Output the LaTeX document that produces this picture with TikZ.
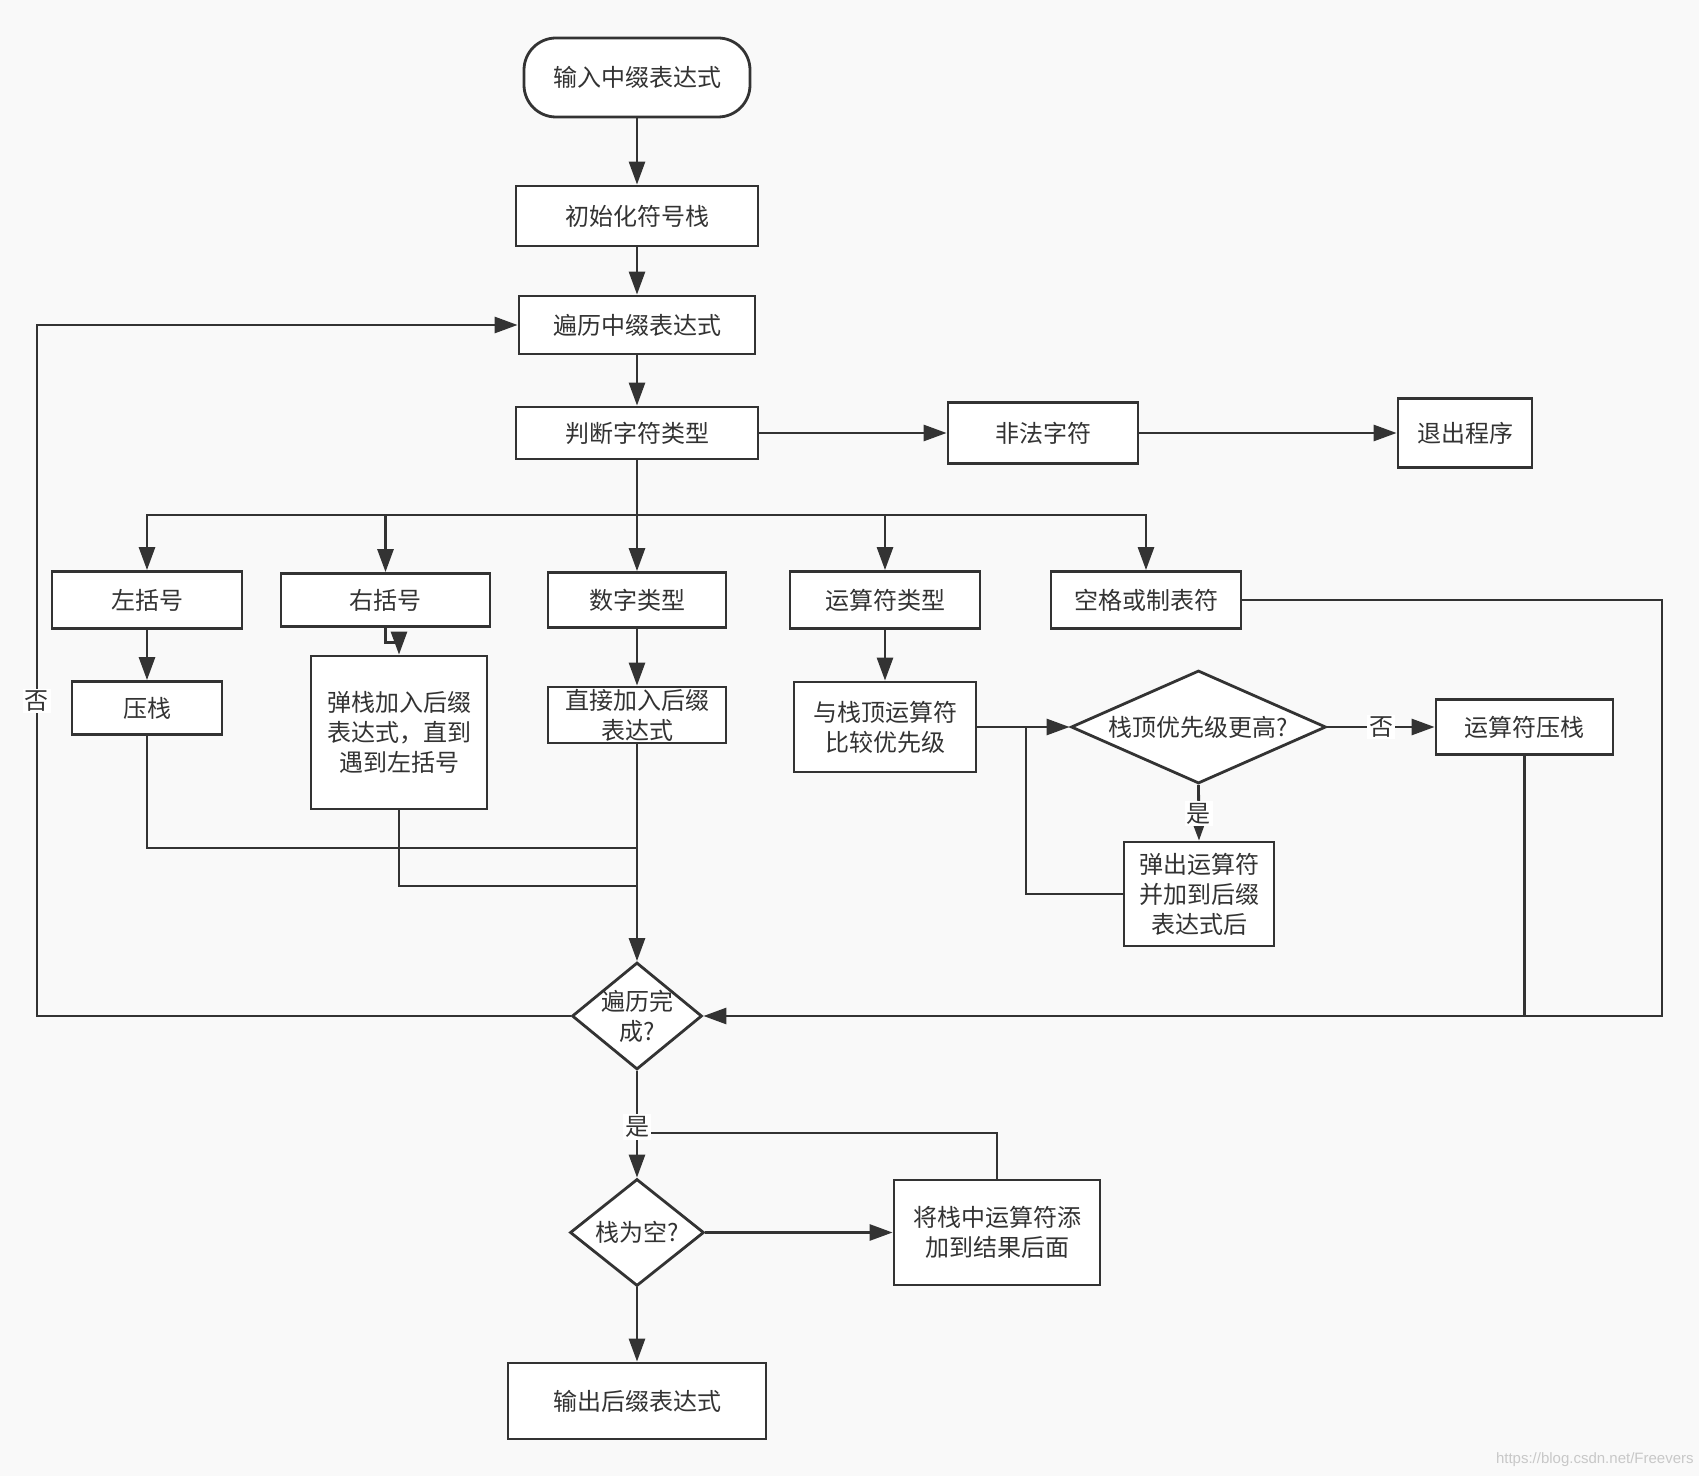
\documentclass[tikz,border=0pt]{standalone}
\usepackage{fontspec}
\newfontfamily\cjk{Noto Sans CJK SC}
\newfontfamily\wmfont{Liberation Sans}
\usetikzlibrary{arrows.meta,shapes.geometric}
\definecolor{bgc}{HTML}{F9F9F9}
\definecolor{linec}{HTML}{333333}
\definecolor{wmc}{HTML}{C8C8C8}
\tikzset{
  box/.style={draw=linec, line width=1.4pt, fill=white, rectangle, inner sep=0pt, align=center},
  dia/.style={draw=linec, line width=1.4pt, fill=white, diamond, inner sep=0pt},
  conn/.style={draw=linec, line width=1.4pt},
  arr/.style={conn, -{Triangle[length=11.5pt,width=8pt]}},
  elab/.style={fill=white, inner sep=1pt},
}
\begin{document}
\begin{tikzpicture}[x=0.5pt,y=-0.5pt, font=\cjk\fontsize{12}{15}\selectfont, text=linec]
\fill[bgc] (0,0) rectangle (1699,1476);
\useasboundingbox (0,0) rectangle (1699,1476);

\node[box, rounded corners=16pt, minimum width=113pt, minimum height=39.5pt] (start) at (637,77.5) {输入中缀表达式};
\node[box, minimum width=121pt, minimum height=30pt] (init) at (637,216) {初始化符号栈};
\node[box, minimum width=118pt, minimum height=29pt] (trav) at (637,325) {遍历中缀表达式};
\node[box, minimum width=121pt, minimum height=26pt] (judge) at (637,433) {判断字符类型};
\node[box, minimum width=95pt, minimum height=30.5pt] (illegal) at (1043,433) {非法字符};
\node[box, minimum width=67pt, minimum height=34.5pt] (exit) at (1465,433) {退出程序};

\node[box, minimum width=95pt, minimum height=28.5pt] (lp) at (147,600) {左括号};
\node[box, minimum width=104.5pt, minimum height=26.5pt] (rp) at (385.5,600) {右括号};
\node[box, minimum width=89pt, minimum height=27.5pt] (num) at (637,600) {数字类型};
\node[box, minimum width=95pt, minimum height=28.5pt] (op) at (885,600) {运算符类型};
\node[box, minimum width=95pt, minimum height=28.5pt] (space) at (1146,600) {空格或制表符};

\node[box, minimum width=75pt, minimum height=26.5pt] (push) at (147,708) {压栈};
\node[box, minimum width=88pt, minimum height=76.5pt] (pop) at (399,732.5) {弹栈加入后缀\\表达式，直到\\遇到左括号};
\node[box, minimum width=89pt, minimum height=28pt] (direct) at (637,715) {直接加入后缀\\表达式};
\node[box, minimum width=91pt, minimum height=45pt] (cmp) at (885,727) {与栈顶运算符\\比较优先级};
\node[dia, minimum width=127.5pt, minimum height=56.5pt, label={center:栈顶优先级更高?}] (d1) at (1198.5,727) {};
\node[box, minimum width=88.5pt, minimum height=27.5pt] (push2) at (1524.5,727) {运算符压栈};
\node[box, minimum width=75pt, minimum height=52pt] (pop2) at (1199,894) {弹出运算符\\并加到后缀\\表达式后};

\node[dia, minimum width=65pt, minimum height=53.5pt, label={[align=center]center:遍历完\\成?}] (d2) at (637,1016) {};
\node[dia, minimum width=67pt, minimum height=53.5pt, label={center:栈为空?}] (empty) at (637,1232.5) {};
\node[box, minimum width=103pt, minimum height=52.5pt] (add) at (997,1232.5) {将栈中运算符添\\加到结果后面};
\node[box, minimum width=129pt, minimum height=38pt] (out) at (637,1401) {输出后缀表达式};

\coordinate (br) at (637,515);
\coordinate (m1) at (637,848);
\coordinate (m2) at (637,886);
\coordinate (j1) at (1026,727);
\coordinate (c2) at (1662,1016);
\coordinate (c3) at (37,325);
\coordinate (m3) at (637,1133);

\draw[arr] (start) -- (init);
\draw[arr] (init) -- (trav);
\draw[arr] (trav) -- (judge);
\draw[arr] (judge) -- (illegal);
\draw[arr] (illegal) -- (exit);
\draw[arr] (judge.south) -- (num.north);
\draw[arr] (br) -| (lp.north);
\draw[arr] (br) -| (rp.north);
\draw[arr] (br) -| (op.north);
\draw[arr] (br) -| (space.north);
\draw[arr] (lp) -- (push);
\draw[arr] (rp.south) -- ++(0,15) -| (pop.north);
\draw[arr] (num) -- (direct);
\draw[arr] (op) -- (cmp);
\draw[conn] (pop2.west) -| (j1);
\draw[arr] (cmp.east) -- (d1.west);
\draw[arr] (d1.east) -- node[elab] (no1) {否} (push2.west);
\draw[arr] (d1.south) -- node[elab, pos=0.52] (yes1) {是} (pop2.north);
\draw[arr] (space.east) -| (c2) -- (d2.east);
\draw[conn] (push2.south) -- (push2.south |- d2.east);
\draw[conn] (push.south) |- (m1);
\draw[conn] (pop.south) |- (m2);
\draw[arr] (direct.south) -- (d2.north);
\draw[arr] (d2.west) -| (c3) -- (trav.west);
\node[elab] (no2) at (37,701) {否};
\draw[arr] (d2.south) -- (empty.north);
\draw[conn] (add.north) |- (m3);
\node[elab] (yes2) at (637,1127) {是};
\draw[arr] (empty.east) -- (add.west);
\draw[arr] (empty.south) -- (out.north);

\node[anchor=east, text=wmc, font=\wmfont\fontsize{7.5}{9}\selectfont, inner sep=0pt] (wm) at (1694,1460) {https://blog.csdn.net/Freevers};
\end{tikzpicture}
\end{document}
